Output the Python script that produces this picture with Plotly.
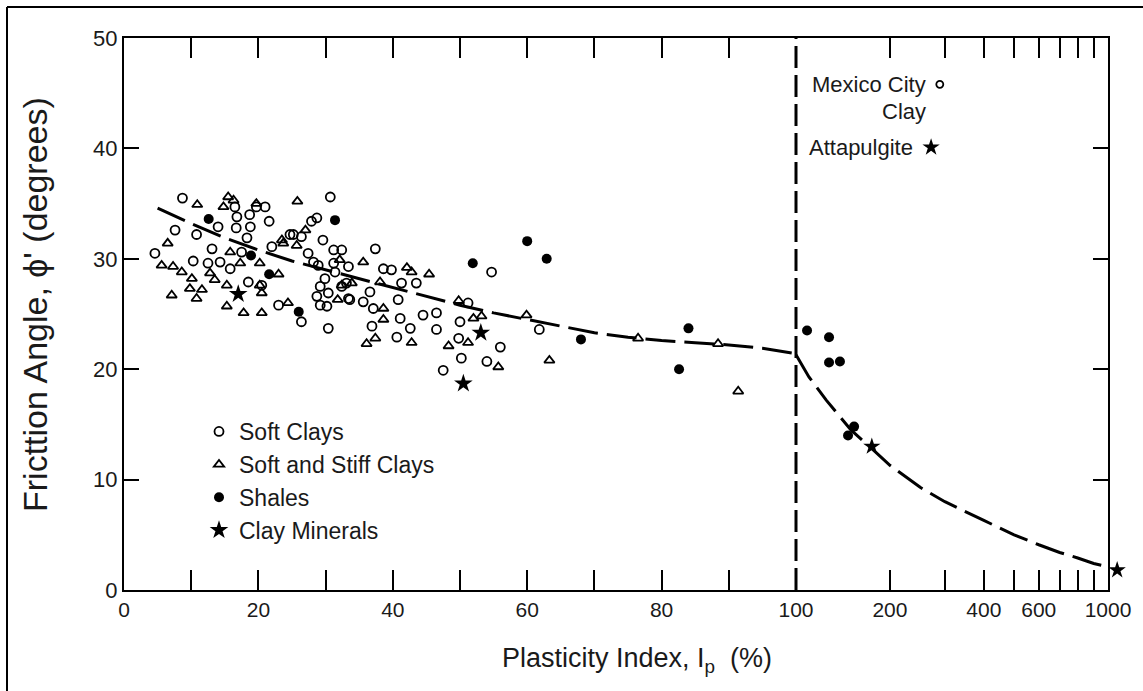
import plotly.graph_objects as go

# ---------------- data ----------------
# Linear part of the x axis: plasticity index 0-100 %
soft_clay_pi = [4.6, 7.6, 8.7, 10.8, 10.3, 13.1, 14.0, 14.3, 15.8, 16.5, 16.8, 16.7, 18.7, 18.8, 19.7, 21.0,
                21.6, 18.3, 12.5, 18.5, 20.5, 22.0, 23.0, 26.4, 24.7, 26.4, 27.9, 28.7, 30.7, 29.6, 31.2, 32.4,
                31.2, 33.4, 28.2, 29.2, 28.7, 30.4, 30.2, 30.4, 33.4, 32.4, 25.2, 27.4, 28.9, 17.5, 29.9, 31.4,
                29.2, 37.4, 38.6, 39.8, 41.3, 43.5, 33.1, 33.6, 35.6, 37.1, 36.6, 40.8, 41.1, 42.6, 44.5, 46.5,
                46.5, 36.9, 40.6, 50.0, 49.8, 50.2, 47.5, 51.2, 54.7, 54.0, 56.0, 61.8]
soft_clay_phi = [30.5, 32.6, 35.5, 32.2, 29.8, 30.9, 32.9, 29.7, 29.1, 34.7, 33.8, 32.8, 34.0, 32.9, 34.7, 34.7,
                 33.4, 31.9, 29.6, 27.9, 27.6, 31.1, 25.8, 24.3, 32.2, 32.0, 33.4, 33.7, 35.6, 31.7, 30.8, 30.8,
                 29.6, 29.3, 29.7, 27.5, 26.6, 26.9, 25.7, 23.7, 26.4, 27.5, 32.2, 30.5, 29.4, 30.6, 28.2, 28.8,
                 25.8, 30.9, 29.1, 29.0, 27.8, 27.8, 27.8, 26.3, 26.1, 25.5, 27.0, 26.3, 24.6, 23.7, 24.9, 25.1,
                 23.6, 23.9, 22.9, 24.3, 22.8, 21.0, 19.9, 26.0, 28.8, 20.7, 22.0, 23.6]

stiff_clay_pi = [5.6, 6.5, 7.3, 8.6, 10.1, 9.8, 11.6, 10.8, 7.1, 12.8, 13.5, 15.3, 15.3, 10.9, 15.5, 16.3, 14.8,
                 19.7, 25.8, 15.8, 17.8, 20.5, 20.5, 20.2, 20.2, 17.3, 23.0, 24.4, 23.5, 27.0, 25.7, 23.7, 32.1,
                 31.8, 33.9, 35.6, 36.1, 42.1, 45.4, 42.8, 38.1, 38.6, 38.6, 37.4, 42.8, 49.8, 48.3, 51.2, 52.0,
                 53.2, 55.7, 59.9, 63.3, 76.5, 88.4, 91.4, 32.4]
stiff_clay_phi = [29.4, 31.4, 29.3, 28.8, 28.2, 27.3, 27.2, 26.4, 26.7, 28.7, 28.1, 27.6, 25.7, 34.9, 35.6, 35.3,
                  34.7, 35.0, 35.2, 30.6, 25.1, 25.1, 26.9, 27.6, 29.6, 29.6, 28.6, 26.0, 31.7, 32.6, 31.2, 31.4,
                  29.9, 26.3, 27.8, 29.7, 22.3, 29.2, 28.6, 28.8, 27.9, 25.5, 24.5, 22.8, 22.4, 26.2, 22.1, 22.4,
                  24.6, 24.8, 20.2, 24.9, 20.8, 22.8, 22.3, 18.0, 27.6]

shale_pi = [12.6, 18.9, 21.6, 26.0, 31.4, 51.9, 60.0, 62.9, 68.0, 84.0, 82.6]
shale_phi = [33.6, 30.3, 28.6, 25.2, 33.5, 29.6, 31.6, 30.0, 22.7, 23.7, 20.0]

mineral_pi = [17.0, 53.1, 50.5]
mineral_phi = [26.8, 23.3, 18.7]

trend_lin_pi = [5, 10, 15, 20, 25, 30, 35, 40, 45, 50, 55, 60, 65, 70, 75, 80, 85, 90, 95, 100]
trend_lin_phi = [34.6, 33.2, 31.9, 30.8, 29.8, 29.0, 28.2, 27.4, 26.6, 25.8, 25.1, 24.5, 23.9, 23.3, 22.9,
                 22.6, 22.4, 22.2, 21.9, 21.4]

# Logarithmic part of the x axis: plasticity index 100-1000 %
soft_clay_log_pi = [289]          # Mexico City Clay
soft_clay_log_phi = [45.8]
shale_log_pi = [108.5, 127.6, 127.6, 138.3, 146.8, 153.5]
shale_log_phi = [23.5, 22.9, 20.6, 20.7, 14.0, 14.8]
mineral_log_pi = [175, 271]        # second one: Attapulgite
mineral_log_phi = [13.0, 40.1]
mineral_edge_pi = [1070]           # plotted just beyond the 1000 % end of the axis
mineral_edge_phi = [1.8]

trend_log_pi = [100, 110, 125, 150, 175, 200, 250, 300, 400, 500, 600, 700, 800, 900, 1000]
trend_log_phi = [21.3, 19.3, 17.2, 14.5, 12.8, 11.3, 9.3, 8.0, 6.3, 5.0, 4.1, 3.4, 2.9, 2.4, 2.1]

lin_tick_vals = [0, 10, 20, 30, 40, 50, 60, 70, 80, 90]
lin_tick_text = ["0", "", "20", "", "40", "", "60", "", "80", ""]
log_tick_vals = [100, 200, 300, 400, 500, 600, 700, 800, 900, 1000]
log_tick_text = ["100", "200", "", "400", "", "600", "", "", "", "1000"]
y_major_ticks = [0, 10, 20, 30, 40, 50]
y_right_ticks = [10, 20, 30, 40]

# ---------------- geometry helpers (pixel -> paper) ----------------
W_PX, H_PX = 1143, 691
L, R, T, B = 124, 13, 38, 101
PW = W_PX - L - R
PH = H_PX - T - B


def px_x(p):
    return (p - L) / PW


def px_y(p):
    return (H_PX - B - p) / PH


X_SPLIT = 796      # pixel of PI = 100
X_END = 1108       # pixel of PI = 1000
DECADE = X_END - X_SPLIT

REG = "Liberation Sans, Arial, Helvetica, sans-serif"
INK = "#1a1a1a"

fig = go.Figure()

open_line = dict(color="black", width=1.8)

fig.add_trace(go.Scatter(x=soft_clay_pi, y=soft_clay_phi, mode="markers", name="Soft Clays", legendgroup="a",
                         marker=dict(symbol="circle-open", size=9, color="black", line=open_line),
                         xaxis="x", yaxis="y"))
fig.add_trace(go.Scatter(x=stiff_clay_pi, y=stiff_clay_phi, mode="markers", name="Soft and Stiff Clays",
                         legendgroup="b",
                         marker=dict(symbol="triangle-up-open", size=9, color="black", line=open_line),
                         xaxis="x", yaxis="y"))
fig.add_trace(go.Scatter(x=shale_pi, y=shale_phi, mode="markers", name="Shales", legendgroup="c",
                         marker=dict(symbol="circle", size=10, color="black"),
                         xaxis="x", yaxis="y"))
fig.add_trace(go.Scatter(x=mineral_pi, y=mineral_phi, mode="markers", name="Clay Minerals", legendgroup="d",
                         marker=dict(symbol="star", size=14, color="black"),
                         xaxis="x", yaxis="y"))
fig.add_trace(go.Scatter(x=trend_lin_pi, y=trend_lin_phi, mode="lines", showlegend=False,
                         line=dict(color="black", width=3, dash="30px,9px"),
                         xaxis="x", yaxis="y"))

fig.add_trace(go.Scatter(x=soft_clay_log_pi, y=soft_clay_log_phi, mode="markers", showlegend=False,
                         marker=dict(symbol="circle-open", size=7, color="black", line=open_line),
                         xaxis="x2", yaxis="y2"))
fig.add_trace(go.Scatter(x=shale_log_pi, y=shale_log_phi, mode="markers", showlegend=False,
                         marker=dict(symbol="circle", size=10, color="black"),
                         xaxis="x2", yaxis="y2"))
fig.add_trace(go.Scatter(x=mineral_log_pi, y=mineral_log_phi, mode="markers", showlegend=False,
                         marker=dict(symbol="star", size=13, color="black"), cliponaxis=False,
                         xaxis="x2", yaxis="y2"))
fig.add_trace(go.Scatter(x=trend_log_pi, y=trend_log_phi, mode="lines", showlegend=False,
                         line=dict(color="black", width=3, dash="30px,9px"),
                         xaxis="x2", yaxis="y2"))
# hidden log axis strip just right of 1000 % (same px per decade) for the edge point
fig.add_trace(go.Scatter(x=mineral_edge_pi, y=mineral_edge_phi, mode="markers", showlegend=False,
                         marker=dict(symbol="star", size=13, color="black"), cliponaxis=False,
                         xaxis="x3", yaxis="y3"))

axis_common = dict(showgrid=False, zeroline=False, showline=True, linewidth=2, linecolor="black",
                   ticks="inside", tickwidth=2, tickcolor="black", automargin=False)

fig.update_layout(
    template="none",
    width=W_PX, height=H_PX,
    margin=dict(l=L, r=R, t=T, b=B, autoexpand=False),
    paper_bgcolor="white", plot_bgcolor="rgba(0,0,0,0)",
    font=dict(family=REG, color=INK),
    xaxis=dict(domain=[0, px_x(X_SPLIT)], range=[0, 100], tickmode="array", tickvals=lin_tick_vals,
               ticktext=lin_tick_text, ticklen=20, mirror="ticks", anchor="y",
               tickfont=dict(family=REG, size=21, color=INK), **axis_common),
    xaxis2=dict(domain=[px_x(X_SPLIT), px_x(X_END)], type="log", range=[2, 3], tickmode="array",
                tickvals=log_tick_vals, ticktext=log_tick_text, ticklen=20, mirror="ticks", anchor="y2",
                tickfont=dict(family=REG, size=21, color=INK), **axis_common),
    xaxis3=dict(domain=[px_x(X_END), 1], type="log", range=[3, 3 + (L + PW - X_END) / DECADE],
                anchor="y3", visible=False, showgrid=False, zeroline=False, automargin=False),
    yaxis=dict(domain=[0, 1], range=[0, 50], tickmode="array", tickvals=y_major_ticks, ticklen=15,
               anchor="x", tickfont=dict(family=REG, size=22, color=INK), **axis_common),
    yaxis2=dict(range=[0, 50], tickmode="array", tickvals=y_right_ticks, ticklen=15,
                anchor="x2", side="right", overlaying="y", showticklabels=False, **axis_common),
    yaxis3=dict(domain=[0, 1], range=[0, 50], anchor="x3", visible=False, showgrid=False, zeroline=False,
                automargin=False),
    legend=dict(x=px_x(199), y=px_y(410), xanchor="left", yanchor="top", bgcolor="rgba(0,0,0,0)",
                borderwidth=0, font=dict(family=REG, size=23, color=INK), tracegroupgap=0),
    showlegend=True,
    hovermode=False,
)

# vertical dashed boundary at PI = 100 (pixel of the axis split)
fig.add_shape(type="line", xref="paper", yref="paper", x0=px_x(X_SPLIT), x1=px_x(X_SPLIT), y0=0, y1=1,
              line=dict(color="black", width=3, dash="22px,7px"))

# outer frame (only top and left edges fall inside the picture)
fig.add_shape(type="line", xref="paper", yref="paper", x0=px_x(7), x1=px_x(1150),
              y0=px_y(7), y1=px_y(7), line=dict(color="black", width=2))
fig.add_shape(type="line", xref="paper", yref="paper", x0=px_x(7), x1=px_x(7),
              y0=px_y(700), y1=px_y(7), line=dict(color="black", width=2))

# axis titles
fig.add_annotation(text="Plasticity Index, I<sub>p</sub>  (%)", xref="paper", yref="paper",
                   x=px_x(637), y=px_y(660), showarrow=False,
                   xanchor="center", yanchor="middle", font=dict(family=REG, size=27, color=INK))
fig.add_annotation(text="Fricttion Angle, \u03d5' (degrees)", xref="paper", yref="paper",
                   x=px_x(35), y=px_y(305), showarrow=False, textangle=-90,
                   xanchor="center", yanchor="middle", font=dict(family=REG, size=34, color=INK))

# labels for the special points on the log part (annotation x on a log axis is log10)
fig.add_annotation(text="Mexico City", xref="x2", yref="y2", x=2 + (928 - X_SPLIT) / DECADE,
                   y=45.8, showarrow=False, xanchor="right", yanchor="middle",
                   font=dict(family=REG, size=22, color=INK))
fig.add_annotation(text="Clay", xref="x2", yref="y2", x=2 + (928 - X_SPLIT) / DECADE,
                   y=43.3, showarrow=False, xanchor="right", yanchor="middle",
                   font=dict(family=REG, size=22, color=INK))
fig.add_annotation(text="Attapulgite", xref="x2", yref="y2", x=2 + (915 - X_SPLIT) / DECADE,
                   y=40.1, showarrow=False, xanchor="right", yanchor="middle",
                   font=dict(family=REG, size=22, color=INK))

fig.write_html("out.html")
